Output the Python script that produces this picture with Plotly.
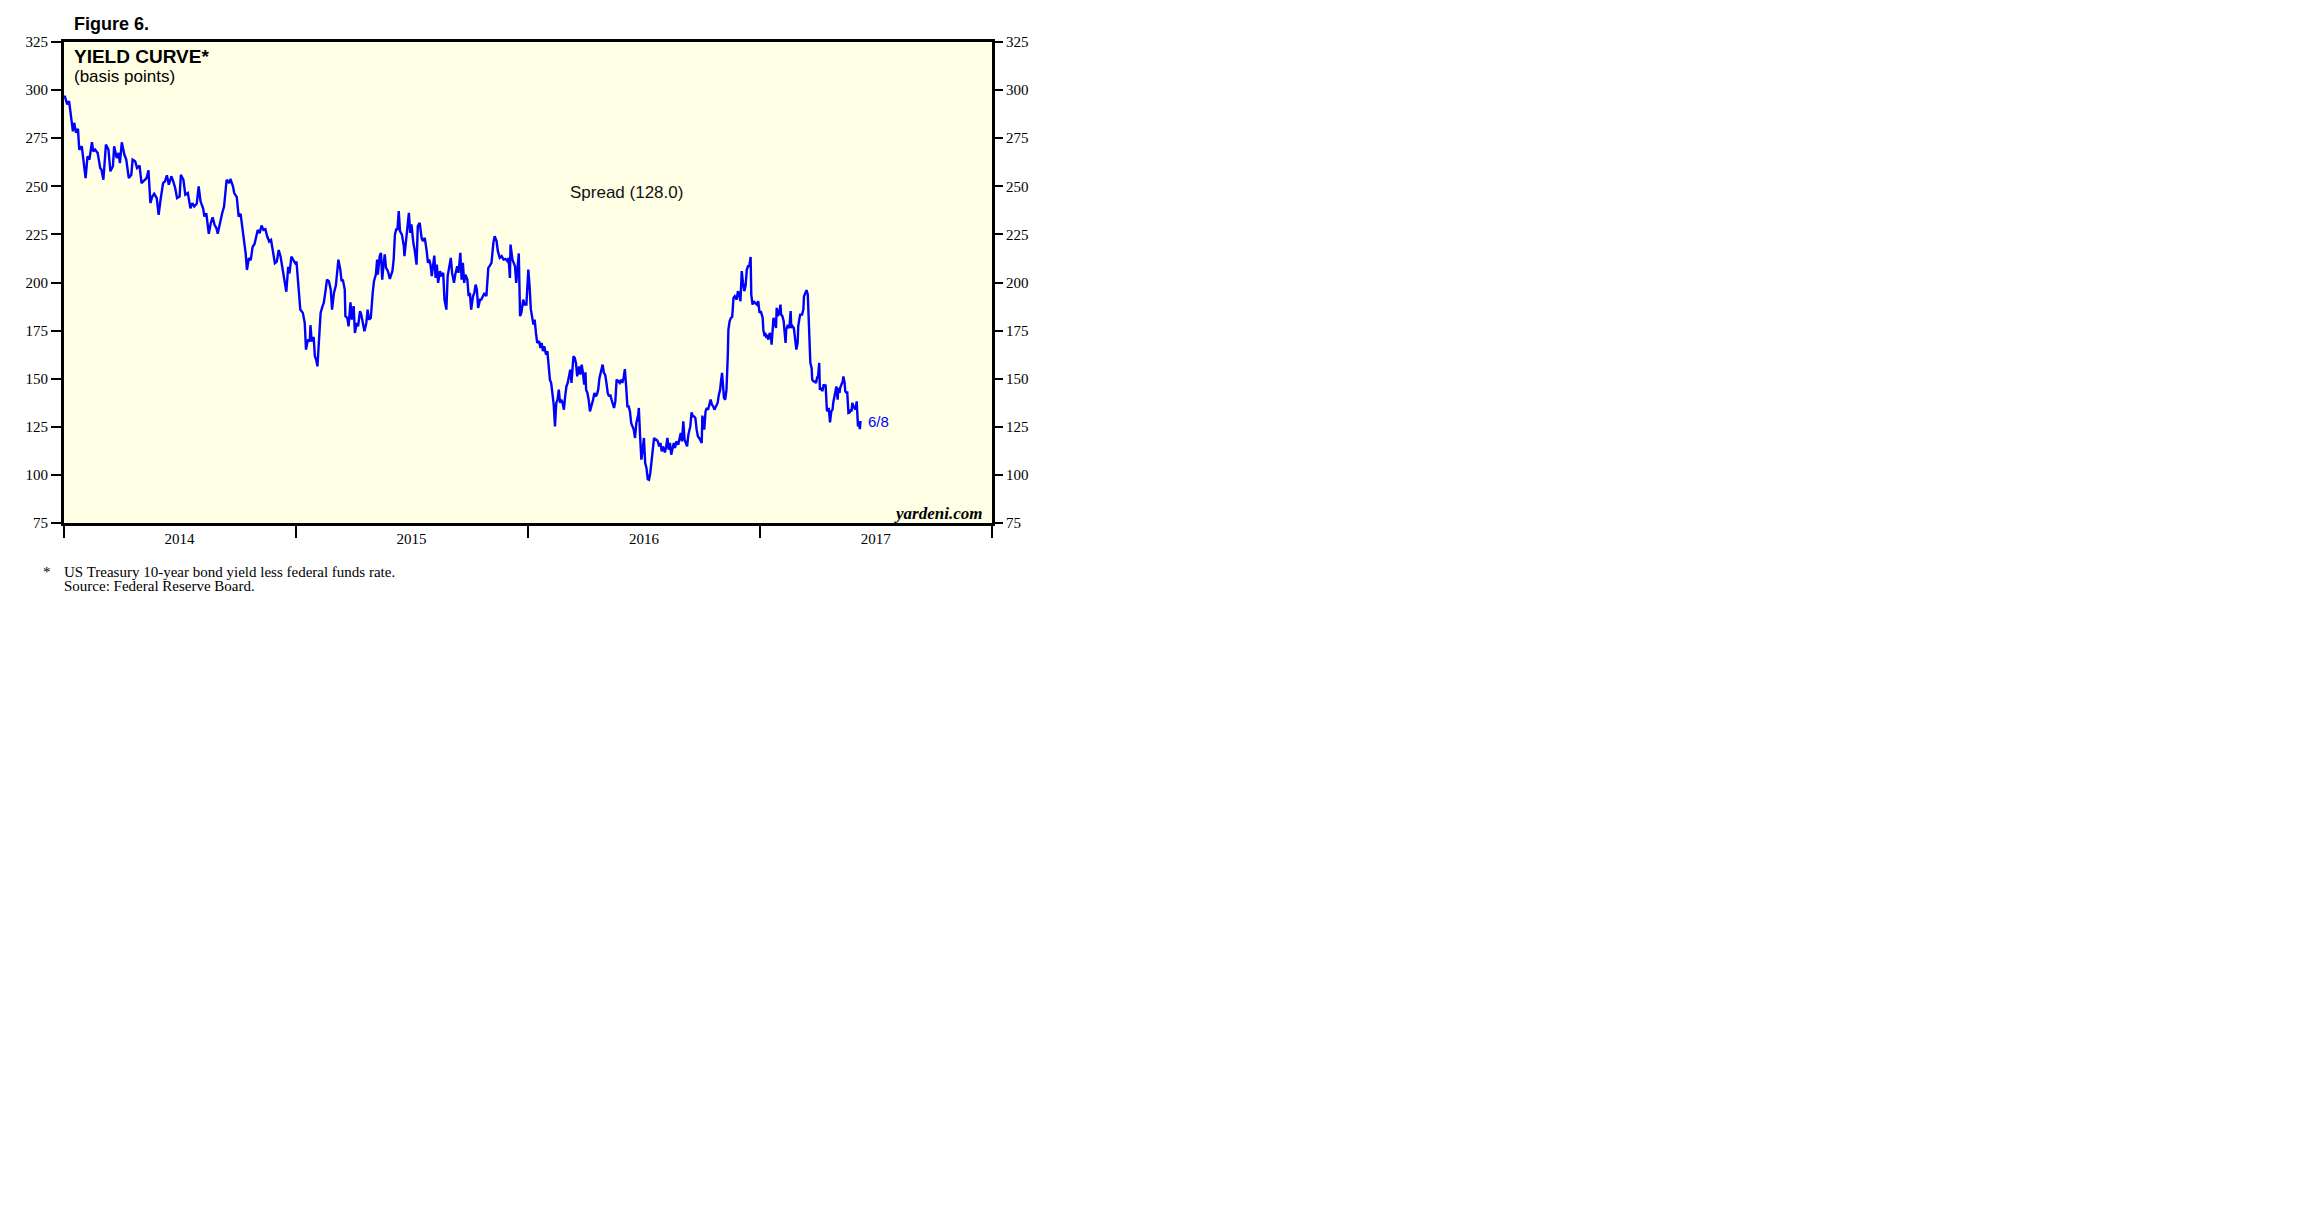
import plotly.graph_objects as go

# ---------------- data ----------------
days_2014 = ["01-02","01-06","01-09","01-12","01-15","01-17","01-20","01-23","01-25","01-29",
             "02-01","02-04","02-07","02-10","02-14","02-16","02-19","02-23","02-27","03-01",
             "03-04","03-08","03-12","03-15","03-19","03-21","03-25","03-28","03-30","04-02",
             "04-06","04-09","04-13","04-17","04-19","04-23","04-26","04-30","05-03","05-08",
             "05-11","05-14","05-17","05-20","05-23","05-27","05-30","06-02","06-06","06-09",
             "06-12","06-15","06-19","06-22","06-25","06-28","07-02","07-04","07-08","07-11",
             "07-15","07-19","07-22","07-25","07-29","08-01","08-04","08-08","08-10","08-13",
             "08-17","08-20","08-23","08-26","08-29","08-31","09-03","09-07","09-10","09-12",
             "09-14","09-18","09-20","09-24","09-26","09-30","10-03","10-06","10-09","10-12",
             "10-14","10-16","10-19","10-22","10-25","10-28","10-31","11-02","11-05","11-08",
             "11-11","11-14","11-17","11-20","11-23","11-26","11-29","12-02","12-05","12-08",
             "12-11","12-14","12-17","12-20","12-22","12-25","12-28","12-31"]
spread_2014 = [297.2,292.6,294.3,286.5,278.6,283.0,277.8,279.9,269.0,270.8,
               262.1,254.3,265.6,263.9,272.9,268.2,269.1,267.3,259.5,258.6,
               253.4,271.7,269.1,257.8,260.4,270.8,264.7,267.3,262.1,272.9,
               266.5,263.9,254.3,256.0,263.9,263.0,259.5,260.7,251.7,253.4,
               254.3,258.3,241.3,244.7,246.1,243.9,235.2,243.0,251.7,252.6,
               255.7,250.8,255.2,252.6,249.1,243.9,244.7,256.0,253.4,245.6,
               246.5,238.6,241.3,239.5,240.9,250.0,242.1,238.6,234.3,236.0,
               225.3,230.8,233.9,230.0,228.2,225.3,230.8,236.0,239.5,246.5,
               253.4,251.7,253.8,250.0,246.5,244.4,234.3,235.7,228.2,222.1,
               215.2,206.5,212.6,211.7,218.6,220.0,223.9,227.3,225.6,229.6,
               227.3,227.7,223.9,221.3,222.1,216.9,210.0,210.8,216.9,213.4,
               206.5,200.4,195.2,208.2,204.7,213.4,211.7,210.0]

days_2015 = ["01-02","01-05","01-08","01-12","01-15","01-17","01-20","01-23","01-24","01-26",
             "01-29","01-31","02-02","02-04","02-06","02-09","02-12","02-14","02-17","02-19",
             "02-22","02-25","02-27","03-02","03-05","03-07","03-09","03-12","03-14","03-16",
             "03-19","03-20","03-23","03-25","03-28","03-30","04-02","04-04","04-07","04-09",
             "04-12","04-14","04-17","04-19","04-22","04-24","04-26","04-29","05-02","05-04",
             "05-07","05-09","05-10","05-13","05-15","05-17","05-19","05-21","05-23","05-26",
             "05-29","06-02","06-04","06-06","06-08","06-10","06-12","06-14","06-17","06-20",
             "06-21","06-23","06-26","06-28","06-30","07-02","07-05","07-07","07-10","07-12",
             "07-15","07-18","07-20","07-23","07-26","07-28","07-30","08-01","08-03","08-05",
             "08-07","08-09","08-11","08-13","08-16","08-18","08-21","08-23","08-26","08-28",
             "08-30","09-02","09-04","09-07","09-09","09-12","09-14","09-17","09-19","09-21",
             "09-23","09-25","09-28","09-30","10-02","10-04","10-07","10-09","10-11","10-13",
             "10-15","10-18","10-20","10-23","10-25","10-28","10-31","11-02","11-05","11-08",
             "11-10","11-13","11-15","11-18","11-21","11-24","11-27","11-30","12-02","12-04",
             "12-05","12-08","12-10","12-12","12-14","12-16","12-18","12-20","12-22","12-25",
             "12-27","12-30"]
spread_2015 = [210.8,199.0,186.0,184.2,179.0,165.1,170.3,169.4,177.8,169.4,
               171.7,161.6,159.9,156.4,166.8,184.2,187.7,189.4,196.3,201.5,
               200.7,196.3,185.9,194.6,198.4,205.9,211.9,206.7,200.7,201.5,
               196.3,182.5,181.6,177.2,189.7,180.7,187.7,173.8,179.0,177.2,
               185.1,183.3,179.0,174.7,179.0,185.9,180.7,181.6,194.6,200.7,
               204.1,211.9,204.1,213.7,215.4,201.5,209.3,214.6,207.6,205.9,
               201.9,205.9,211.9,224.9,227.6,227.6,237.1,226.7,224.9,218.9,
               213.7,220.6,229.3,236.2,225.8,230.2,220.6,217.1,209.3,229.3,
               231.0,223.2,221.5,223.2,216.3,210.2,211.9,209.3,203.3,208.5,
               214.0,202.4,209.3,199.8,205.9,203.3,205.0,191.1,185.9,203.3,
               206.7,212.8,205.0,199.8,204.1,208.5,205.0,215.4,201.5,210.2,
               199.8,204.1,201.5,192.9,194.6,185.9,192.9,194.6,198.9,196.3,
               186.8,191.1,191.1,193.7,194.6,192.9,207.6,208.5,210.2,220.6,
               224.1,221.5,216.3,212.8,213.7,211.9,212.3,211.1,212.8,202.4,
               219.7,211.9,210.2,208.5,199.8,208.5,215.1,182.5,184.2,191.1,
               188.5,188.5]

days_2016 = ["01-02","01-04","01-06","01-10","01-12","01-14","01-16","01-19","01-21","01-23",
             "01-25","01-27","01-30","02-01","02-03","02-05","02-07","02-09","02-11","02-13",
             "02-15","02-17","02-19","02-21","02-23","02-25","02-27","02-29","03-02","03-04",
             "03-06","03-08","03-10","03-12","03-13","03-15","03-17","03-19","03-22","03-24",
             "03-26","03-28","03-30","04-01","04-02","04-04","04-06","04-08","04-11","04-13",
             "04-15","04-17","04-19","04-21","04-23","04-25","04-27","04-28","04-30","05-02",
             "05-04","05-06","05-08","05-10","05-12","05-14","05-16","05-18","05-20","05-23",
             "05-25","05-27","05-29","05-31","06-02","06-04","06-06","06-08","06-10","06-12",
             "06-14","06-16","06-18","06-20","06-23","06-24","06-26","06-28","06-30","07-02",
             "07-04","07-06","07-08","07-10","07-12","07-14","07-16","07-18","07-20","07-22",
             "07-24","07-26","07-28","07-30","08-01","08-04","08-06","08-08","08-10","08-12",
             "08-14","08-16","08-18","08-20","08-22","08-25","08-27","08-29","08-31","09-02",
             "09-04","09-06","09-08","09-10","09-13","09-15","09-17","09-19","09-21","09-23",
             "09-25","09-27","09-29","10-01","10-02","10-05","10-07","10-09","10-11","10-13",
             "10-15","10-17","10-19","10-21","10-23","10-26","10-28","10-30","10-31","11-02",
             "11-04","11-05","11-07","11-09","11-11","11-12","11-14","11-16","11-18","11-20",
             "11-22","11-25","11-27","11-29","12-01","12-03","12-05","12-07","12-09","12-11",
             "12-13","12-15","12-17","12-18","12-20","12-22","12-24","12-27","12-29","12-31"]
spread_2016 = [206.7,198.0,186.0,178.1,180.7,173.8,168.6,169.5,166.0,168.6,
               164.3,166.9,162.5,164.3,158.2,149.5,147.8,140.8,136.5,125.2,
               137.4,139.1,144.3,137.4,139.1,137.4,133.9,140.8,146.0,147.8,
               151.2,154.7,147.8,156.4,161.6,160.8,158.2,151.2,156.4,152.1,
               157.3,153.0,146.9,153.3,144.3,142.6,139.1,133.0,136.5,139.1,
               142.6,140.8,141.7,144.3,150.4,153.0,154.7,157.3,153.0,152.1,
               147.8,142.6,140.8,141.7,139.1,136.5,134.8,138.2,149.5,148.6,
               147.8,149.5,147.8,150.4,155.0,146.0,135.6,135.6,133.0,126.9,
               125.2,123.5,119.2,126.9,131.3,134.8,120.0,107.9,113.1,119.2,
               106.2,103.6,97.8,97.5,101.0,107.9,113.1,119.2,118.3,118.3,
               117.4,114.8,116.6,112.2,114.8,111.7,114.8,119.2,113.1,116.6,
               110.5,114.8,116.6,114.0,117.4,115.7,118.3,121.8,117.4,127.8,
               118.3,116.6,114.8,120.9,125.2,132.5,130.4,130.4,129.6,123.5,
               120.0,119.2,117.4,116.6,130.8,123.5,133.0,134.8,133.9,136.5,
               139.1,136.5,135.6,133.9,135.6,137.4,141.7,144.3,147.8,153.0,
               144.3,140.0,139.1,144.3,161.6,175.5,179.9,181.6,182.1,192.0,
               192.9,191.1,195.5,193.7,190.3,205.9,199.8,195.5,198.1,206.7,
               208.5,208.5,213.3,193.7,188.5,190.3,189.4,188.5,190.3,184.2]

days_2017 = ["01-02","01-05","01-06","01-08","01-09","01-11","01-12","01-14","01-16","01-18",
             "01-19","01-21","01-22","01-24","01-26","01-27","01-29","01-31","02-02","02-03",
             "02-05","02-07","02-08","02-10","02-11","02-13","02-16","02-18","02-19","02-21",
             "02-23","02-25","02-27","03-01","03-02","03-04","03-05","03-08","03-10","03-11",
             "03-13","03-15","03-17","03-19","03-20","03-21","03-23","03-24","03-26","03-28",
             "03-30","04-01","04-02","04-04","04-05","04-08","04-09","04-11","04-13","04-14",
             "04-16","04-17","04-19","04-21","04-23","04-25","04-26","04-28","04-30","05-01",
             "05-03","05-04","05-06","05-07","05-09","05-11","05-12","05-14","05-15","05-17",
             "05-18","05-20","05-22","05-23","05-25","05-26","05-28","05-30","05-31","06-02",
             "06-03","06-04","06-05","06-07","06-08"]
spread_2017 = [185.1,181.6,175.5,172.1,173.8,171.2,172.9,170.3,173.8,172.1,
               167.7,176.4,181.6,179.0,176.4,186.8,182.5,184.2,188.5,183.3,
               182.5,179.9,176.4,168.6,175.5,177.3,176.4,185.1,176.4,177.3,
               176.4,170.3,165.1,168.6,177.3,181.6,183.3,183.3,185.9,192.9,
               194.6,196.0,193.7,177.3,160.8,158.2,155.6,149.5,148.6,148.6,
               147.8,151.2,150.4,158.2,144.3,145.2,143.4,147.0,146.0,147.0,
               133.9,133.0,134.8,127.3,133.0,133.9,137.4,140.8,142.6,146.0,
               139.1,145.2,142.6,145.2,147.0,148.6,151.2,147.8,143.4,142.6,
               143.4,132.2,132.5,133.9,133.0,137.4,135.6,133.9,133.9,138.2,
               131.3,125.2,127.8,123.8,128.0]

y_ticks = [75, 100, 125, 150, 175, 200, 225, 250, 275, 300, 325]
year_starts = ["2014-01-01", "2015-01-01", "2016-01-01", "2017-01-01", "2018-01-01"]
year_label_pos = ["2014-07-02", "2015-07-02", "2016-07-02", "2017-07-02"]
year_labels = ["2014", "2015", "2016", "2017"]
last_label = "6/8"
spread_title = "Spread (128.0)"

# ---------------- assemble ----------------
dates = (["2014-" + d for d in days_2014] + ["2015-" + d for d in days_2015] +
         ["2016-" + d for d in days_2016] + ["2017-" + d for d in days_2017])
spread = spread_2014 + spread_2015 + spread_2016 + spread_2017

# page geometry (the html body adds an 8px margin around the figure)
OFF = 8
W, H = 2304 - 2 * OFF, 1228 - 2 * OFF
L, R, T, B = 64, 992, 42, 523          # frame edges in page pixels
pw, ph = R - L, B - T


def px(x):
    return (x - L) / pw


def py(y):
    return (B - y) / ph


SERIF = "Liberation Serif, Times New Roman, serif"
SANS = "Liberation Sans, Arial, Helvetica, sans-serif"

fig = go.Figure()
fig.add_trace(go.Scatter(x=dates, y=spread, mode="lines",
                         line=dict(color="#0000FF", width=2.4),
                         hoverinfo="skip", showlegend=False))
# invisible copy to carry the right-hand axis and the year labels
fig.add_trace(go.Scatter(x=dates, y=spread, mode="lines", xaxis="x2", yaxis="y2",
                         line=dict(color="rgba(0,0,0,0)", width=0),
                         hoverinfo="skip", showlegend=False))

fig.update_layout(
    width=W, height=H,
    margin=dict(l=L - OFF, r=W - (R - OFF), t=T - OFF, b=H - (B - OFF), pad=0),
    paper_bgcolor="white",
    plot_bgcolor="#FFFFE5",
    showlegend=False,
    xaxis=dict(type="date", range=[year_starts[0], year_starts[-1]],
               tickmode="array", tickvals=year_starts, showticklabels=False,
               ticks="outside", ticklen=12, tickwidth=2, tickcolor="black",
               showline=True, linewidth=3, linecolor="black", mirror=True,
               showgrid=False, zeroline=False),
    xaxis2=dict(type="date", range=[year_starts[0], year_starts[-1]], overlaying="x",
                anchor="y2", side="bottom",
                tickmode="array", tickvals=year_label_pos, ticktext=year_labels,
                ticks="outside", ticklen=2, tickcolor="rgba(0,0,0,0)",
                showline=False, showgrid=False, zeroline=False,
                tickfont=dict(family=SERIF, size=15, color="black")),
    yaxis=dict(range=[75, 325], tickmode="array", tickvals=y_ticks,
               ticks="outside", ticklen=10, tickwidth=1.5, tickcolor="black",
               showline=True, linewidth=3, linecolor="black", mirror=True,
               showgrid=False, zeroline=False,
               tickfont=dict(family=SERIF, size=15, color="black")),
    yaxis2=dict(range=[75, 325], overlaying="y", side="right", anchor="x2",
                tickmode="array", tickvals=y_ticks,
                ticks="outside", ticklen=10, tickwidth=1.5, tickcolor="black",
                showline=False, showgrid=False, zeroline=False,
                tickfont=dict(family=SERIF, size=15, color="black")),
)

annotations = [
    dict(text="<b>Figure 6.</b>", x=px(73), y=py(24), xanchor="left", yanchor="middle",
         font=dict(family=SANS, size=18, color="black")),
    dict(text="<b>YIELD CURVE*</b>", x=px(73), y=py(57), xanchor="left", yanchor="middle",
         font=dict(family=SANS, size=19, color="black")),
    dict(text="(basis points)", x=px(73), y=py(77), xanchor="left", yanchor="middle",
         font=dict(family=SANS, size=17, color="black")),
    dict(text=spread_title, x=px(626), y=py(193), xanchor="center", yanchor="middle",
         font=dict(family=SANS, size=17, color="#111111")),
    dict(text="<b><i>yardeni.com</i></b>", x=px(983), y=py(513), xanchor="right", yanchor="middle",
         font=dict(family=SERIF, size=17, color="black")),
    dict(text="*", x=px(47), y=py(572), xanchor="center", yanchor="middle",
         font=dict(family=SERIF, size=15, color="black")),
    dict(text="US Treasury 10-year bond yield less federal funds rate.", x=px(63), y=py(571.5),
         xanchor="left", yanchor="middle", font=dict(family=SERIF, size=15, color="black")),
    dict(text="Source: Federal Reserve Board.", x=px(63), y=py(586),
         xanchor="left", yanchor="middle", font=dict(family=SERIF, size=15, color="black")),
]
for a in annotations:
    a.update(xref="paper", yref="paper", showarrow=False, borderpad=0)

fig.update_layout(annotations=annotations)

# end-of-series label next to the last point
fig.add_annotation(text=last_label, x=dates[-1], y=spread[-1], xref="x", yref="y",
                   xanchor="left", yanchor="middle", xshift=6, showarrow=False, borderpad=0,
                   font=dict(family=SANS, size=15, color="#0000FF"))

fig.write_html("out.html")
